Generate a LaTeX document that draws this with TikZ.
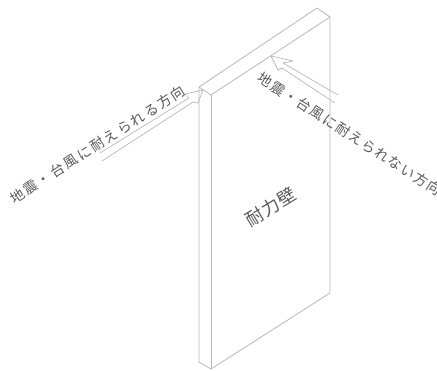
\documentclass[tikz,border=0pt]{standalone}
\usepackage{fontspec}
\newfontfamily\jpfont{Noto Sans CJK JP}
\definecolor{wallline}{gray}{0.72}
\definecolor{jptext}{gray}{0.35}
\tikzset{
  wall/.style={draw=wallline,line width=0.8pt,line join=round},
  pointer/.style={wall,line width=0.7pt},
  lbl/.style={text=jptext,inner sep=0pt,font=\jpfont\fontsize{14}{15}\selectfont},
  walllbl/.style={text=jptext,inner sep=0pt,font=\jpfont\fontsize{18}{19}\selectfont\addfontfeature{LetterSpace=5}}
}
\begin{document}
\begin{tikzpicture}[x=1pt,y=-1pt]
\useasboundingbox (0,0) rectangle (437,370);
\clip (0,0) rectangle (437,370);
% wall
\coordinate (apex) at (317,8);
\coordinate (tr) at (330,17);
\coordinate (tl) at (199,87);
\coordinate (tf) at (211,95);
\coordinate (bl) at (199,362);
\coordinate (bf) at (211,369);
\coordinate (br) at (330,293);
\draw[wall] (tl) -- (apex) -- (tr) -- (tf) -- (tl);
\draw[wall] (tl) -- (bl) -- (bf) -- (br) -- (tr);
\draw[wall] (tf) -- (bf);
% arrow to the left end
\coordinate (a1) at (203,90);
\draw[pointer] (100,153) -- (189,98) -- (185,94) -- (a1) -- (198,103) -- (193,102) -- (102,161);
% arrow to the face
\coordinate (a2) at (271,56);
\draw[pointer] (338,95) -- (283,63) -- (293,61) -- (a2) -- (278,70) -- (282,68) -- (335,103);
% labels
\node[lbl,rotate=32.6,font=\jpfont\fontsize{14}{15}\selectfont\addfontfeature{LetterSpace=13.6}] (left) at (97.5,144.5) {地震・台風に耐えられる方向};
\node[lbl,rotate=-32.6,font=\jpfont\fontsize{14}{15}\selectfont\addfontfeature{LetterSpace=10}] (right) at (349.5,134) {地震・台風に耐えられない方向};
\node[walllbl,rotate=31] (name) at (271,207) {耐力壁};
\end{tikzpicture}
\end{document}
